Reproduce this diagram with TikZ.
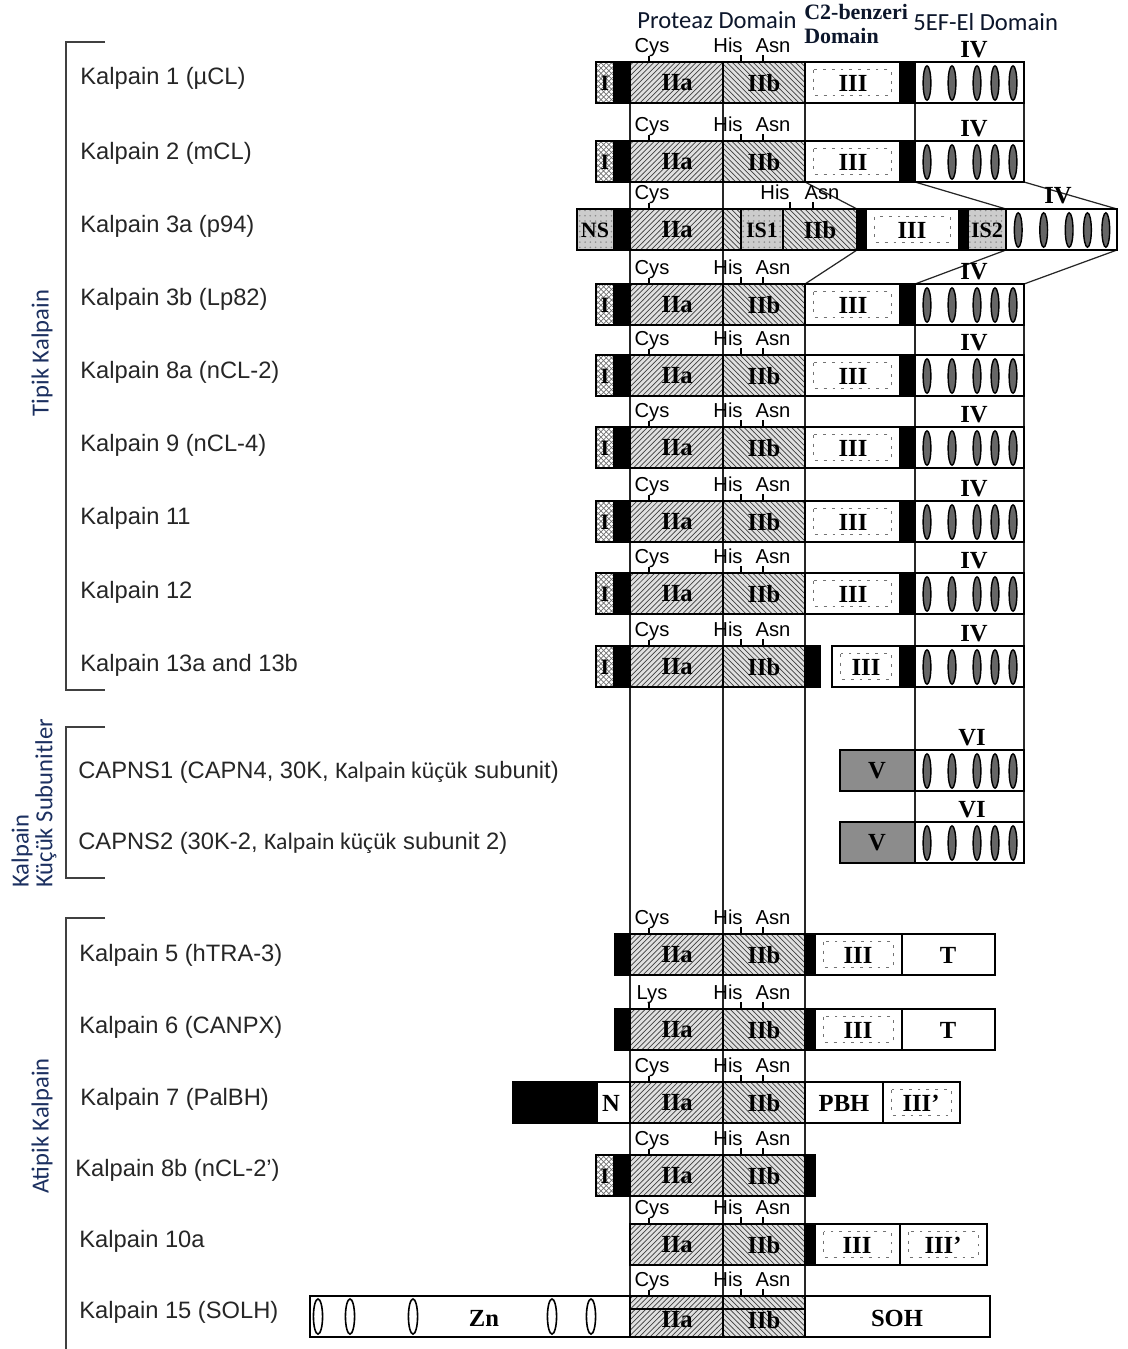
\documentclass[tikz,border=0pt]{standalone}
\usepackage{fontspec}
\setmainfont{Liberation Serif}
\setsansfont{Liberation Sans}
\newfontfamily\calfont{Carlito}
\usetikzlibrary{calc, positioning}
\usetikzlibrary{patterns}

\definecolor{navy}{RGB}{28,48,96}

\tikzset{
  seg/.style={draw=black, line width=1pt},
  rowframe/.style={draw=black, line width=1.5pt},
  blk/.style={fill=black},
  hatchA/.style={seg, preaction={fill=black!12}, pattern=north east lines, pattern color=black!75},
  hatchB/.style={seg, preaction={fill=black!12}, pattern=north west lines, pattern color=black!75},
  xbox/.style={seg, preaction={fill=white}, pattern=crosshatch, pattern color=black!55},
  gbox/.style={seg, preaction={fill=black!20}, pattern=dots, pattern color=black!45},
  vbox/.style={seg, preaction={fill=black!45}, pattern=dots, pattern color=black!45},
  wbox/.style={seg, fill=white},
  speck/.style={draw=black!55, line width=0.6pt, dash pattern=on 1.6pt off 3.4pt},
  spbox/.style={seg, fill=white, path picture={
      \draw[speck] ([xshift=5pt,yshift=-4.5pt]path picture bounding box.north west)
        rectangle ([xshift=-5pt,yshift=4.5pt]path picture bounding box.south east);}},
  egg/.style={draw=black, line width=0.8pt, fill=black!60},
  ring/.style={draw=black, line width=0.9pt, fill=white},
  dom/.style={font=\fontsize{14}{16}\selectfont\bfseries, inner sep=0pt},
  tag/.style={font=\fontsize{12.5}{14}\selectfont\bfseries, inner sep=0pt},
  c2/.style={font=\fontsize{12.5}{14}\selectfont\bfseries, text=navy!45!black, inner sep=0pt, anchor=west},
  res/.style={font=\sffamily\fontsize{11.5}{13}\selectfont, inner sep=0pt, anchor=base},
  rowname/.style={font=\sffamily\fontsize{13.5}{16}\selectfont, text=black!85, anchor=west, inner sep=0pt},
  grp/.style={font=\calfont\fontsize{14}{16}\selectfont, text=navy, rotate=90, inner sep=0pt},
  hdr/.style={font=\calfont\fontsize{14}{16}\selectfont, text=navy!45!black, inner sep=0pt, anchor=west},
  guide/.style={line width=0.7pt, draw=black!85},
  tickmark/.style={line width=0.9pt},
  brk/.style={line width=0.9pt, draw=black!75}
}

\begin{document}
\begin{tikzpicture}[x=0.02cm, y=-0.02cm]
\useasboundingbox (0,0) rectangle (1128,1349);

% headers
\node[hdr] (hprot) at (637,20) {Proteaz Domain};
\node[c2] (hc2a) at (804,12) {C2-benzeri};
\node[c2] (hc2b) at (804,36) {Domain};
\node[hdr] (hef) at (913,22) {5EF-El Domain};

% group brackets
\draw[brk] (105,42) -| (66,690) -- (105,690);
\draw[brk] (105,727) -| (66,878) -- (105,878);
\draw[brk] (105,918) -| (66,1349);
\node[grp] (gtip) at (42,353) {Tipik Kalpain};
\node[grp, anchor=west] (gk1) at (22,888) {Kalpain};
\node[grp, anchor=west] (gk2) at (46,888) {Küçük Subunitler};
\node[grp] (gatip) at (42,1126) {Atipik Kalpain};

% row names
\node[rowname] (k1) at (80,78) {Kalpain 1 (µCL)};
\node[rowname] (k2) at (80,153) {Kalpain 2 (mCL)};
\node[rowname] (k3a) at (80,226) {Kalpain 3a (p94)};
\node[rowname] (k3b) at (80,299) {Kalpain 3b (Lp82)};
\node[rowname] (k8a) at (80,372) {Kalpain 8a (nCL-2)};
\node[rowname] (k9) at (80,445) {Kalpain 9 (nCL-4)};
\node[rowname] (k11) at (80,518) {Kalpain 11};
\node[rowname] (k12) at (80,592) {Kalpain 12};
\node[rowname] (k13) at (80,665) {Kalpain 13a and 13b};
\node[rowname] (ns1) at (78,772) {CAPNS1 (CAPN4, 30K, {\calfont Kalpain küçük} subunit)};
\node[rowname] (ns2) at (78,843) {CAPNS2 (30K-2, {\calfont Kalpain küçük} subunit 2)};
\node[rowname] (k5) at (79,955) {Kalpain 5 (hTRA-3)};
\node[rowname] (k6) at (79,1027) {Kalpain 6 (CANPX)};
\node[rowname] (k7) at (80,1099) {Kalpain 7 (PalBH)};
\node[rowname] (k8b) at (75,1170) {Kalpain 8b (nCL-2’)};
\node[rowname] (k10a) at (79,1241) {Kalpain 10a};
\node[rowname] (k15) at (79,1312) {Kalpain 15 (SOLH)};

% guide lines through the domains
\draw[guide] (630,103) -- (630,1296);
\draw[guide] (723,103) -- (723,1296);
\draw[guide] (805,103) -- (805,141) (805,325) -- (805,1296);
\draw[guide] (915,103) -- (915,141) (915,325) -- (915,822);
\draw[guide] (1024,103) -- (1024,141) (1024,325) -- (1024,822);
% Kalpain 3a insertions
\draw[guide] (805,182) -- (857,209) (915,182) -- (1006,209) (1024,182) -- (1117,209);
\draw[guide] (857,250) -- (805,284) (1006,250) -- (915,284) (1117,250) -- (1024,284);

% protease core IIa / IIb
\foreach \t in {62,141,284,355,427,501,573,646,934,1009,1082,1155,1224} {
  \draw[hatchA] (630,\t) rectangle (723,\t+41);
  \draw[hatchB] (723,\t) rectangle (805,\t+41);
  \node[dom] (IIa\t) at (677,\t+21) {IIa};
  \node[dom] (IIb\t) at (764,\t+21) {IIb};
}

% residues
\foreach \t/\aa in {62/Cys,141/Cys,284/Cys,355/Cys,427/Cys,501/Cys,573/Cys,646/Cys,
                    934/Cys,1009/Lys,1082/Cys,1155/Cys,1224/Cys,1296/Cys} {
  \node[res] (aa\t) at (652,\t-10) {\aa};
  \node[res] (his\t) at (728,\t-10) {His};
  \node[res] (asn\t) at (773,\t-10) {Asn};
  \draw[tickmark] (649,\t-6) -- (649,\t);
  \draw[tickmark] (741,\t-7) -- (741,\t);
  \draw[tickmark] (763,\t-7) -- (763,\t);
}

% domain I and its black linker
\foreach \t in {62,141,284,355,427,501,573,646,1155} {
  \draw[xbox] (596,\t) rectangle (614,\t+41);
  \fill[blk] (614,\t) rectangle (630,\t+41);
  \node[tag] (I\t) at (605,\t+21) {I};
}

% typical rows: III and linker
\foreach \t in {62,141,284,355,427,501,573} {
  \draw[spbox] (805,\t) rectangle (900,\t+41);
  \node[dom] (III\t) at (853,\t+21) {III};
  \fill[blk] (900,\t) rectangle (915,\t+41);
}
\foreach \t in {62,141,284,355,427,501,573,646}
  \node[dom] (IV\t) at (974,\t-12) {IV};

% Kalpain 3a
\draw[gbox] (577,209) rectangle (614,250);
\fill[blk] (614,209) rectangle (630,250);
\draw[hatchA] (630,209) rectangle (723,250);
\draw[hatchB] (723,209) rectangle (741,250);
\draw[gbox] (741,209) rectangle (783,250);
\draw[hatchB] (783,209) rectangle (857,250);
\fill[blk] (857,209) rectangle (866,250);
\draw[spbox] (866,209) rectangle (959,250);
\fill[blk] (959,209) rectangle (968,250);
\draw[gbox] (968,209) rectangle (1006,250);
\node[tag] (NS) at (595,230) {NS};
\node[dom] (IIa3) at (677,230) {IIa};
\node[tag] (IS1) at (762,230) {IS1};
\node[dom] (IIb3) at (820,230) {IIb};
\node[dom] (III3) at (912,230) {III};
\node[tag] (IS2) at (987,230) {IS2};
\node[dom] (IV3) at (1058,196) {IV};
\node[res] (aa3) at (652,199) {Cys};
\node[res] (his3) at (775,199) {His};
\node[res] (asn3) at (822,199) {Asn};
\draw[tickmark] (649,203) -- (649,209);
\draw[tickmark] (790,202) -- (790,209);
\draw[tickmark] (813,202) -- (813,209);

% Kalpain 13a/13b
\fill[blk] (805,646) rectangle (820,687);
\draw[spbox] (832,646) rectangle (900,687);
\node[dom] (III13) at (866,667) {III};
\fill[blk] (900,646) rectangle (915,687);

% small subunits
\foreach \t in {750,822} {
  \draw[vbox] (840,\t) rectangle (915,\t+41);
  \node[dom] (V\t) at (877,\t+21) {V};
  \node[dom] (VI\t) at (972,\t-12) {VI};
}

% EF-hand domains
\foreach \x/\w/\t in {915/109/62,915/109/141,1006/111/209,915/109/284,915/109/355,915/109/427,
                      915/109/501,915/109/573,915/109/646,915/109/750,915/109/822} {
  \draw[wbox] (\x,\t) rectangle (\x+\w,\t+41);
  \foreach \d in {12,37,62,80,98}
    \draw[egg] (\x+\d*\w/109,\t+21) ellipse [x radius=2.2pt, y radius=9.8pt];
}

% Kalpain 5 and 6
\foreach \t in {934,1009} {
  \fill[blk] (615,\t) rectangle (630,\t+41);
  \fill[blk] (805,\t) rectangle (815,\t+41);
  \draw[spbox] (815,\t) rectangle (902,\t+41);
  \draw[wbox] (902,\t) rectangle (995,\t+41);
  \node[dom] (III\t) at (858,\t+21) {III};
  \node[dom] (T\t) at (948,\t+21) {T};
}

% Kalpain 7
\fill[blk] (513,1082) rectangle (597,1123);
\draw[wbox] (597,1082) rectangle (630,1123);
\draw[wbox] (805,1082) rectangle (883,1123);
\draw[spbox] (883,1082) rectangle (960,1123);
\node[dom] (N7) at (611,1103) {N};
\node[dom] (PBH7) at (844,1103) {PBH};
\node[dom] (IIIp7) at (921,1103) {III'};

% Kalpain 8b
\fill[blk] (805,1155) rectangle (815,1196);

% Kalpain 10a
\fill[blk] (805,1224) rectangle (815,1265);
\draw[spbox] (815,1224) rectangle (900,1265);
\draw[spbox] (900,1224) rectangle (987,1265);
\node[dom] (III10) at (857,1245) {III};
\node[dom] (IIIp10) at (943,1245) {III'};

% Kalpain 15
\draw[wbox] (310,1296) rectangle (630,1337);
\draw[hatchA] (630,1296) rectangle (723,1337);
\draw[hatchB] (723,1296) rectangle (805,1337);
\draw[seg] (630,1309) -- (805,1309);
\draw[wbox] (805,1296) rectangle (990,1337);
\foreach \e in {318,350,413,552,591}
  \draw[ring] (\e,1316.5) ellipse [x radius=2.6pt, y radius=10pt];
\node[dom] (Zn) at (484,1318) {Zn};
\node[dom] (IIa15) at (677,1320) {IIa};
\node[dom] (IIb15) at (764,1320) {IIb};
\node[dom] (SOH) at (897,1318) {SOH};

% row outlines
\foreach \l/\r/\t in {596/1024/62,596/1024/141,577/1117/209,596/1024/284,596/1024/355,
                      596/1024/427,596/1024/501,596/1024/573,596/820/646,832/1024/646,
                      840/1024/750,840/1024/822,615/995/934,615/995/1009,513/960/1082,
                      596/815/1155,630/987/1224,310/990/1296}
  \draw[rowframe] (\l,\t) rectangle (\r,\t+41);

\end{tikzpicture}
\end{document}
